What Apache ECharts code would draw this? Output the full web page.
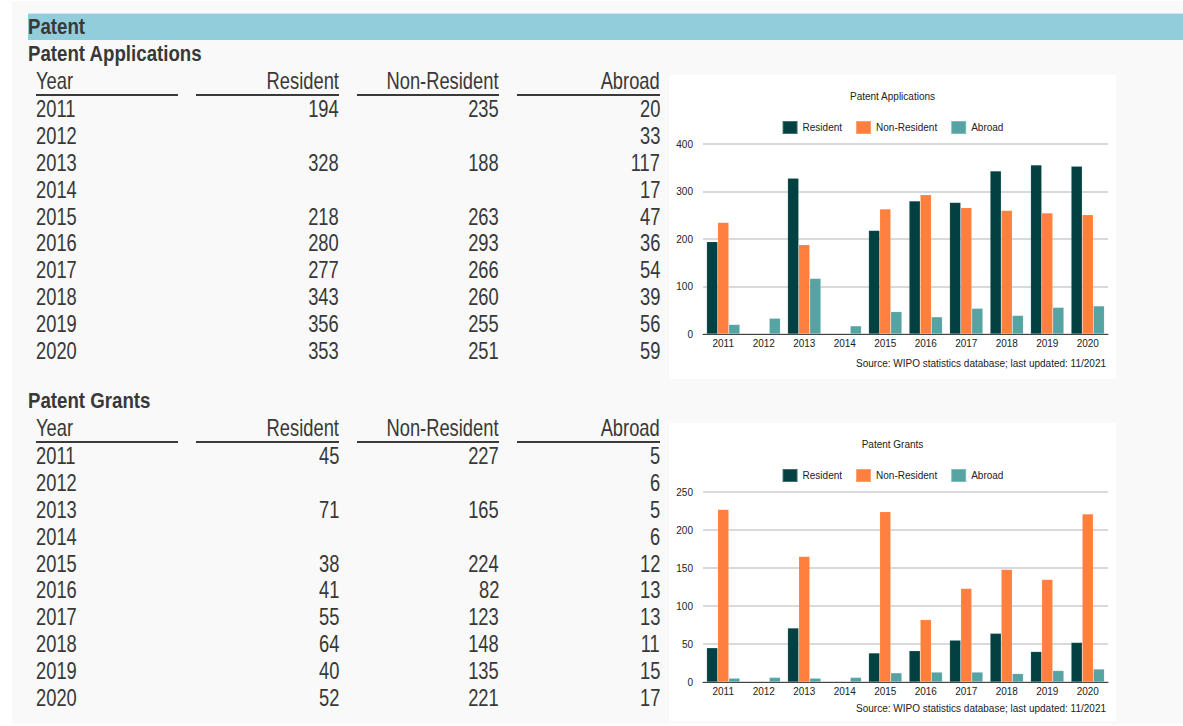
<!DOCTYPE html>
<html>
<head>
<meta charset="utf-8">
<title>Patent</title>
<script src="https://cdn.jsdelivr.net/npm/echarts@6/dist/echarts.min.js"></script>
<style>
  html, body { margin: 0; padding: 0; width: 1183px; height: 726px; overflow: hidden; background: #ffffff;
    font-family: "Liberation Sans", Arial, sans-serif; color: #383838; }
  #page { position: absolute; left: 12px; top: 1px; width: 1171px; height: 723px; background: #f9f9f9; }
  #band { position: absolute; left: 28px; top: 13px; width: 1155px; height: 27px; background: #92cddc;
    border-top: 1px solid #cfe9f0; box-sizing: border-box; }
  .txt { position: absolute; white-space: nowrap; line-height: 1; }
  .txt span { display: inline-block; }
  .rule { position: absolute; height: 2px; background: #3a3a3a; }
  .panel { position: absolute; background: #ffffff; }
</style>
</head>
<body>
<div id="page"></div>
<div id="band"></div>
<div id="tables"></div>
<div id="appChart" class="panel" style="left:669px; top:75px; width:447px; height:304px;"></div>
<div id="grantChart" class="panel" style="left:669px; top:423px; width:447px; height:298px;"></div>

<script>
// ---- data ----
const years = ['2011', '2012', '2013', '2014', '2015', '2016', '2017', '2018', '2019', '2020'];
const columnHeaders = ['Year', 'Resident', 'Non-Resident', 'Abroad'];
const seriesNames = ['Resident', 'Non-Resident', 'Abroad'];

const appResident    = [194, null, 328, null, 218, 280, 277, 343, 356, 353];
const appNonResident = [235, null, 188, null, 263, 293, 266, 260, 255, 251];
const appAbroad      = [20, 33, 117, 17, 47, 36, 54, 39, 56, 59];

const grantResident    = [45, null, 71, null, 38, 41, 55, 64, 40, 52];
const grantNonResident = [227, null, 165, null, 224, 82, 123, 148, 135, 221];
const grantAbroad      = [5, 6, 5, 6, 12, 13, 13, 11, 15, 17];

const appTicks = { max: 400, interval: 100 };
const grantTicks = { max: 250, interval: 50 };

const sourceNote = 'Source: WIPO statistics database; last updated: 11/2021';
const barColors = ['#014141', '#ff7f3f', '#55a4a3'];

// ---- tables ----
const host = document.getElementById('tables');

// Places one line of condensed text; x is the left or right anchor, y the vertical centre.
function place(text, x, y, opt) {
  const fs = opt.size;
  const d = document.createElement('div');
  d.className = 'txt';
  d.style.fontSize = fs + 'px';
  d.style.fontWeight = opt.bold ? 'bold' : 'normal';
  d.style.top = (y - 0.49 * fs) + 'px';
  const s = document.createElement('span');
  s.textContent = text;
  s.style.transform = 'scaleX(' + opt.scale + ')';
  if (opt.align === 'right') {
    d.style.right = (1183 - x) + 'px';
    s.style.transformOrigin = 'right center';
  } else {
    d.style.left = x + 'px';
    s.style.transformOrigin = 'left center';
  }
  d.appendChild(s);
  host.appendChild(d);
}

const boldText = { size: 22.5, scale: 0.83, bold: true, align: 'left' };
const cellText = { size: 23.8, scale: 0.77 };
const columns = [[36, 178], [196, 339], [357, 499], [517, 660]];
const rowPitch = 26.8;

function drawTable(title, top, res, nonRes, abroad) {
  place(title, 28, top, boldText);
  const headY = top + 26.5;
  columnHeaders.forEach((h, i) => {
    const [l, r] = columns[i];
    if (i === 0) place(h, l, headY, Object.assign({ align: 'left' }, cellText));
    else place(h, r, headY, Object.assign({ align: 'right' }, cellText));
    const rule = document.createElement('div');
    rule.className = 'rule';
    rule.style.left = l + 'px';
    rule.style.width = (r - l) + 'px';
    rule.style.top = (top + 40) + 'px';
    host.appendChild(rule);
  });
  years.forEach((yr, k) => {
    const y = top + 55.2 + k * rowPitch;
    place(yr, columns[0][0], y, Object.assign({ align: 'left' }, cellText));
    [res, nonRes, abroad].forEach((arr, j) => {
      const v = arr[k];
      if (v !== null && v !== undefined) {
        place(String(v), columns[j + 1][1], y, Object.assign({ align: 'right' }, cellText));
      }
    });
  });
}

place('Patent', 28, 26.7, boldText);
drawTable('Patent Applications', 53.8, appResident, appNonResident, appAbroad);
drawTable('Patent Grants', 400.8, grantResident, grantNonResident, grantAbroad);

// ---- charts ----
const fontFamily = '"Liberation Sans", Arial, sans-serif';

function barChartOption(title, res, nonRes, abroad, ticks, bottom, sourceBottom) {
  const mk = (name, data, color) => ({
    name: name,
    type: 'bar',
    data: data,
    barGap: '0%',
    barCategoryGap: '18%',
    itemStyle: { color: color, borderColor: 'rgba(255,255,255,0.25)', borderWidth: 0.5 }
  });
  return {
    animation: false,
    textStyle: { fontFamily: fontFamily },
    title: [
      { text: title, left: 'center', top: 16, padding: 0,
        textStyle: { fontSize: 10, fontWeight: 'normal', color: '#222', fontFamily: fontFamily } },
      { text: sourceNote, right: 10, bottom: sourceBottom, padding: 0,
        textStyle: { fontSize: 10, fontWeight: 'normal', color: '#222', fontFamily: fontFamily } }
    ],
    legend: {
      top: 45, left: 'center', padding: 0,
      icon: 'rect', itemWidth: 15, itemHeight: 13, itemGap: 13,
      data: seriesNames,
      textStyle: { fontSize: 10, color: '#222', fontFamily: fontFamily }
    },
    grid: { left: 34, right: 8, top: 69, bottom: bottom, containLabel: false },
    xAxis: {
      type: 'category',
      data: years,
      axisTick: { show: false },
      axisLine: { lineStyle: { color: '#444', width: 1 } },
      axisLabel: { fontSize: 10, color: '#222', margin: 4, fontFamily: fontFamily }
    },
    yAxis: {
      type: 'value',
      min: 0,
      max: ticks.max,
      interval: ticks.interval,
      axisLine: { show: false },
      axisTick: { show: false },
      axisLabel: { fontSize: 10, color: '#222', margin: 10, fontFamily: fontFamily },
      splitLine: { lineStyle: { color: '#cccccc', width: 1.5 } }
    },
    series: [
      mk(seriesNames[0], res, barColors[0]),
      mk(seriesNames[1], nonRes, barColors[1]),
      mk(seriesNames[2], abroad, barColors[2])
    ]
  };
}

const appChart = echarts.init(document.getElementById('appChart'), null, { renderer: 'svg' });
appChart.setOption(barChartOption('Patent Applications', appResident, appNonResident, appAbroad, appTicks, 45, 11));

const grantChart = echarts.init(document.getElementById('grantChart'), null, { renderer: 'svg' });
grantChart.setOption(barChartOption('Patent Grants', grantResident, grantNonResident, grantAbroad, grantTicks, 39, 8));
</script>
</body>
</html>
